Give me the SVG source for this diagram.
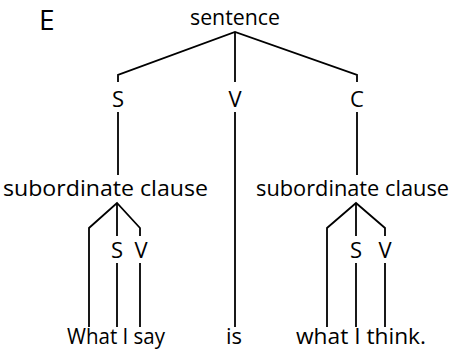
<svg xmlns="http://www.w3.org/2000/svg" width="452" height="358" viewBox="0 0 452 358">
<style>
text{font-family:"Open Sans","Noto Sans",sans-serif;font-size:22px;fill:#000}
.m{text-anchor:middle}
.big{font-size:28px}
.ln{stroke:#000;stroke-width:1.8;fill:none}
</style>
<rect width="452" height="358" fill="#fff"/>
<g id="label-E"><text x="39" y="30" class="big">E</text></g>
<g id="sentence"><text x="190" y="25" textLength="90" lengthAdjust="spacingAndGlyphs">sentence</text></g>
<g id="S1"><text x="118" y="107" class="m">S</text></g>
<g id="V1"><text x="235" y="107" class="m">V</text></g>
<g id="C1"><text x="357" y="107" class="m">C</text></g>
<g id="subclause-left"><text x="3" y="196" textLength="205" lengthAdjust="spacingAndGlyphs">subordinate clause</text></g>
<g id="subclause-right"><text x="256" y="196" textLength="193" lengthAdjust="spacingAndGlyphs">subordinate clause</text></g>
<g id="S2"><text x="117" y="258" class="m">S</text></g>
<g id="V2"><text x="141" y="258" class="m">V</text></g>
<g id="S3"><text x="356" y="258" class="m">S</text></g>
<g id="V3"><text x="385" y="258" class="m">V</text></g>
<g id="what-i-say"><text x="67" y="344" textLength="98" lengthAdjust="spacingAndGlyphs">What I say</text></g>
<g id="is"><text x="226" y="344">is</text></g>
<g id="what-i-think"><text x="296" y="344" textLength="130" lengthAdjust="spacingAndGlyphs">what I think.</text></g>
<g id="connectors" class="ln">
<polyline points="118,82 118,75 235,32 357,75 357,82"/>
<line x1="235" y1="32" x2="235" y2="82"/>
<line x1="118" y1="112" x2="118" y2="175"/>
<line x1="235" y1="112" x2="235" y2="327"/>
<line x1="357" y1="112" x2="357" y2="175"/>
<polyline points="89,327 89,228 117,203 140,228 140,236"/>
<line x1="117" y1="203" x2="117" y2="236"/>
<line x1="117" y1="263" x2="117" y2="327"/>
<line x1="140" y1="263" x2="140" y2="327"/>
<polyline points="327,327 327,228 356,203 385,228 385,236"/>
<line x1="356" y1="203" x2="356" y2="236"/>
<line x1="356" y1="263" x2="356" y2="327"/>
<line x1="385" y1="263" x2="385" y2="327"/>
</g>
</svg>
